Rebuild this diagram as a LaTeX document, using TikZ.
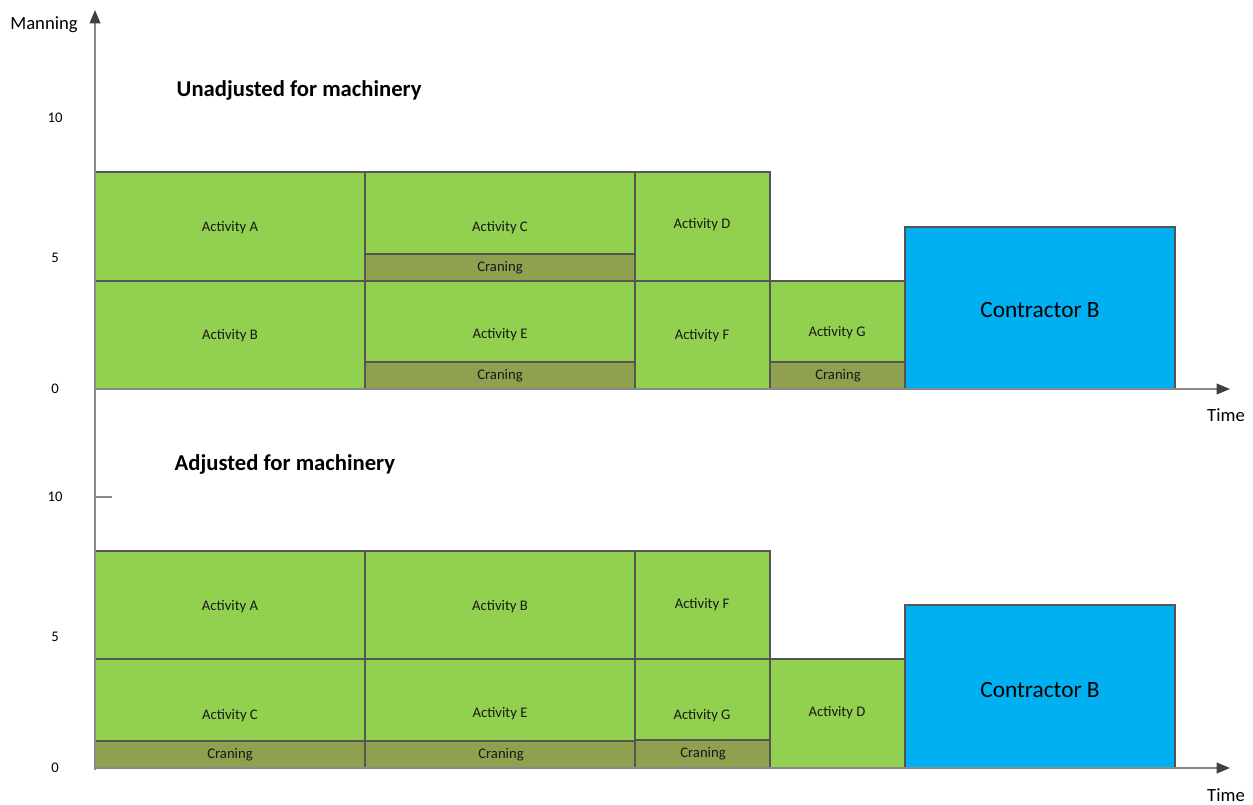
\documentclass[tikz,border=0pt]{standalone}
\usepackage{fontspec}
\setmainfont{Carlito}
\usetikzlibrary{arrows.meta}
\definecolor{actgreen}{HTML}{92D050}
\definecolor{cranecol}{HTML}{8FA14F}
\definecolor{contblue}{HTML}{00B0F0}
\definecolor{edgegray}{HTML}{555555}
\definecolor{axisgray}{HTML}{8A8A8A}
\definecolor{tipgray}{HTML}{404040}
\tikzset{
  actbox/.style={fill=actgreen, draw=edgegray, line width=0.8pt},
  cranebox/.style={fill=cranecol, draw=edgegray, line width=0.8pt},
  contbox/.style={fill=contblue, draw=edgegray, line width=0.8pt},
  lbl/.style={font=\fontsize{11}{12}\selectfont, text=black!90},
  biglbl/.style={font=\fontsize{17.5}{19}\selectfont, text=black},
  ticklbl/.style={font=\fontsize{11}{12}\selectfont, text=black},
  axlbl/.style={font=\fontsize{14}{16}\selectfont, text=black},
  ttl/.style={font=\bfseries\fontsize{17}{19}\selectfont, text=black, anchor=west},
  axis/.style={draw=axisgray, line width=1.2pt, -{Triangle[length=10pt,width=8pt,color=tipgray]}},
}
\begin{document}
\begin{tikzpicture}[x=0.75pt, y=-0.75pt]
\useasboundingbox (0,0) rectangle (1253,804);

% ---------- upper chart: unadjusted ----------
\path[actbox] (95,172) rectangle (365,281);
\path[actbox] (95,281) rectangle (365,389);
\path[actbox] (365,172) rectangle (635,281);
\path[cranebox] (365,254) rectangle (635,281);
\path[actbox] (365,281) rectangle (635,389);
\path[cranebox] (365,362) rectangle (635,389);
\path[actbox] (635,172) rectangle (770,281);
\path[actbox] (635,281) rectangle (770,389);
\path[actbox] (770,281) rectangle (905,389);
\path[cranebox] (770,362) rectangle (905,389);
\path[contbox] (905,227) rectangle (1175,389);

\node[lbl] (uA) at (230,228) {Activity A};
\node[lbl] (uB) at (230,336) {Activity B};
\node[lbl] (uC) at (500,228) {Activity C};
\node[lbl] (uCc) at (500,268) {Craning};
\node[lbl] (uE) at (500,335) {Activity E};
\node[lbl] (uEc) at (500,376) {Craning};
\node[lbl] (uD) at (702,225) {Activity D};
\node[lbl] (uF) at (702,336) {Activity F};
\node[lbl] (uG) at (837,333) {Activity G};
\node[lbl] (uGc) at (838,376) {Craning};
\node[biglbl] (uK) at (1040,310) {Contractor B};

\node[ttl] (uT) at (172,90) {Unadjusted for machinery};

% ---------- lower chart: adjusted ----------
\path[actbox] (95,551) rectangle (365,659);
\path[actbox] (95,659) rectangle (365,768);
\path[cranebox] (95,741) rectangle (365,768);
\path[actbox] (365,551) rectangle (635,659);
\path[actbox] (365,659) rectangle (635,768);
\path[cranebox] (365,741) rectangle (635,768);
\path[actbox] (635,551) rectangle (770,659);
\path[actbox] (635,659) rectangle (770,768);
\path[cranebox] (635,740) rectangle (770,768);
\path[actbox] (770,659) rectangle (905,768);
\path[contbox] (905,605) rectangle (1175,768);

\node[lbl] (lA) at (230,607) {Activity A};
\node[lbl] (lB) at (500,607) {Activity B};
\node[lbl] (lF) at (702,605) {Activity F};
\node[lbl] (lC) at (230,716) {Activity C};
\node[lbl] (lCc) at (230,755) {Craning};
\node[lbl] (lE) at (500,714) {Activity E};
\node[lbl] (lEc) at (501,755) {Craning};
\node[lbl] (lG) at (702,716) {Activity G};
\node[lbl] (lGc) at (703,754) {Craning};
\node[lbl] (lD) at (837,713) {Activity D};
\node[biglbl] (lK) at (1040,690) {Contractor B};

\node[ttl] (lT) at (170,464) {Adjusted for machinery};

% ---------- axes ----------
\coordinate (yb) at (95,770);
\coordinate (yt) at (95,10);
\coordinate (ux0) at (95,389);
\coordinate (ux1) at (1230,389);
\coordinate (lx0) at (95,768);
\coordinate (lx1) at (1230,768);
\draw[axis] (yb) -- (yt);
\draw[axis] (ux0) -- (ux1);
\draw[axis] (lx0) -- (lx1);
\coordinate (tk0) at (95,497);
\coordinate (tk1) at (112,497);
\draw[draw=axisgray, line width=1.2pt] (tk0) -- (tk1);

\node[axlbl] (yl) at (44,25) {Manning};
\node[axlbl] (ut) at (1226,415) {Time};
\node[axlbl] (lt) at (1226,795) {Time};

\node[ticklbl] (u10) at (55,118) {10};
\node[ticklbl] (u5) at (55,258) {5};
\node[ticklbl] (u0) at (55,389) {0};
\node[ticklbl] (l10) at (55,497) {10};
\node[ticklbl] (l5) at (55,637) {5};
\node[ticklbl] (l0) at (55,768) {0};
\end{tikzpicture}
\end{document}
